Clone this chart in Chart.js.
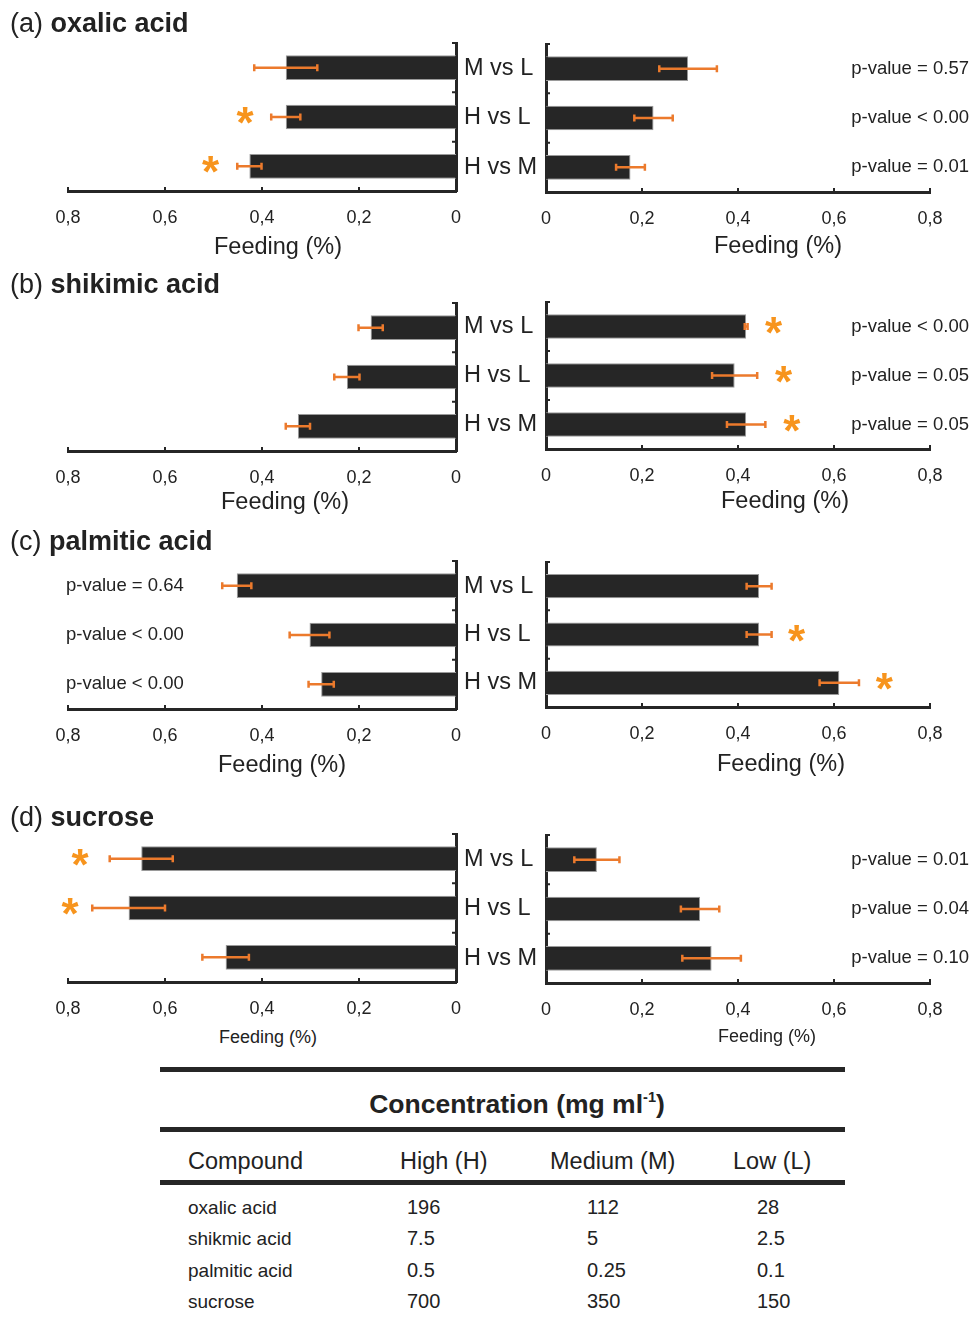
<!DOCTYPE html>
<html>
<head>
<meta charset="utf-8">
<script src="https://cdn.jsdelivr.net/npm/chart.js@4.4.0/dist/chart.umd.min.js"></script>
<style>
  body { margin: 0; background: #fff; }
  #page { position: relative; width: 973px; height: 1318px; overflow: hidden;
          font-family: "Liberation Sans", Arial, sans-serif; color: #222; }
  #page canvas { position: absolute; }
  .t { position: absolute; white-space: nowrap; line-height: 1; }
  .rule { position: absolute; left: 160px; width: 685px; height: 5px; background: #262626; }
  sup { font-size: 0.55em; vertical-align: 0.75em; line-height: 0; }
</style>
</head>
<body>
<div id="page"></div>
<script>
// comparisons shown on every panel, top to bottom
const comparisons = ['M vs L', 'H vs L', 'H vs M'];
const axisTicks = [0, 0.2, 0.4, 0.6, 0.8];

// (a) oxalic acid
const oxalicLeftMean = [0.351, 0.351, 0.426];
const oxalicLeftErr = [0.065, 0.030, 0.025];
const oxalicLeftStar = [null, 0.435, 0.506];
const oxalicRightMean = [0.296, 0.224, 0.176];
const oxalicRightErr = [0.060, 0.040, 0.030];
const oxalicPValues = ['p-value = 0.57', 'p-value < 0.00', 'p-value = 0.01'];

// (b) shikimic acid
const shikimicLeftMean = [0.176, 0.225, 0.326];
const shikimicLeftErr = [0.025, 0.026, 0.025];
const shikimicRightMean = [0.417, 0.393, 0.417];
const shikimicRightErr = [0.003, 0.047, 0.040];
const shikimicRightStar = [0.474, 0.495, 0.512];
const shikimicPValues = ['p-value < 0.00', 'p-value = 0.05', 'p-value = 0.05'];

// (c) palmitic acid
const palmiticLeftMean = [0.452, 0.302, 0.278];
const palmiticLeftErr = [0.030, 0.041, 0.026];
const palmiticRightMean = [0.444, 0.444, 0.611];
const palmiticRightErr = [0.026, 0.026, 0.041];
const palmiticRightStar = [null, 0.522, 0.705];
const palmiticPValues = ['p-value = 0.64', 'p-value < 0.00', 'p-value < 0.00'];

// (d) sucrose
const sucroseLeftMean = [0.649, 0.675, 0.475];
const sucroseLeftErr = [0.065, 0.075, 0.048];
const sucroseLeftStar = [0.775, 0.796, null];
const sucroseRightMean = [0.106, 0.321, 0.345];
const sucroseRightErr = [0.047, 0.040, 0.061];
const sucrosePValues = ['p-value = 0.01', 'p-value = 0.04', 'p-value = 0.10'];

// concentration table
const compounds = ['oxalic acid', 'shikmic acid', 'palmitic acid', 'sucrose'];
const concHigh = ['196', '7.5', '0.5', '700'];
const concMedium = ['112', '5', '0.25', '350'];
const concLow = ['28', '2.5', '0.1', '150'];

const BAR = '#262626', ERR = '#EC7A2C', STAR = '#F7941D', INK = '#222';
const FONT = '"Liberation Sans", Arial, sans-serif';
Chart.defaults.font.family = FONT;

const page = document.getElementById('page');

function text(html, x, baseline, size, align, bold) {
  const d = document.createElement('div');
  d.className = 't';
  d.innerHTML = html;
  d.style.fontSize = size + 'px';
  if (bold) d.style.fontWeight = 'bold';
  d.style.left = x + 'px';
  d.style.top = (baseline - 0.8465 * size) + 'px';
  if (align === 'center') d.style.transform = 'translateX(-50%)';
  if (align === 'right') d.style.transform = 'translateX(-100%)';
  page.appendChild(d);
  return d;
}

const tickText = v => v === 0 ? '0' : v.toFixed(1).replace('.', ',');

// error bars, asterisks, p-values and the small inward tick marks
const marks = {
  id: 'marks',
  afterDraw(chart, args, o) {
    const { ctx, chartArea: ca } = chart;
    const xs = chart.scales.x, ys = chart.scales.y;
    const mean = chart.data.datasets[0].data;
    ctx.save();

    ctx.strokeStyle = ERR;
    ctx.lineWidth = 2.5;
    mean.forEach((m, i) => {
      const y = ys.getPixelForValue(i);
      const a = xs.getPixelForValue(m - o.err[i]);
      const b = xs.getPixelForValue(m + o.err[i]);
      ctx.beginPath();
      ctx.moveTo(a, y); ctx.lineTo(b, y);
      ctx.moveTo(a, y - 3.5); ctx.lineTo(a, y + 3.5);
      ctx.moveTo(b, y - 3.5); ctx.lineTo(b, y + 3.5);
      ctx.stroke();
    });

    ctx.fillStyle = STAR;
    ctx.font = 'bold 44px ' + FONT;
    ctx.textAlign = 'center';
    ctx.textBaseline = 'middle';
    (o.star || []).forEach((s, i) => {
      if (s == null) return;
      ctx.fillText('*', xs.getPixelForValue(s), ys.getPixelForValue(i) + 9);
    });

    ctx.fillStyle = INK;
    ctx.font = '18.5px ' + FONT;
    ctx.textAlign = o.pAlign;
    (o.pvals || []).forEach((p, i) => {
      ctx.fillText(p, o.pX, ys.getPixelForValue(i));
    });

    ctx.strokeStyle = BAR;
    ctx.lineWidth = 2;
    ctx.beginPath();
    xs.ticks.forEach(t => {
      const px = xs.getPixelForValue(t.value);
      ctx.moveTo(px, ca.bottom); ctx.lineTo(px, ca.bottom - 4);
    });
    const ax = o.yRight ? ca.right : ca.left;
    const dir = o.yRight ? -1 : 1;
    const n = mean.length;
    for (let i = 0; i <= n; i++) {
      const y = ca.top + i * (ca.bottom - ca.top) / n;
      ctx.moveTo(ax, y); ctx.lineTo(ax + dir * 4, y);
    }
    ctx.stroke();
    ctx.restore();
  }
};

function makePanel(side, top, bottom, mean, err, star, pvals, pSide) {
  const isLeft = side === 'left';
  const cv = document.createElement('canvas');
  cv.width = isLeft ? 480 : 523;
  cv.height = bottom - top + 10 + 45;
  cv.style.left = (isLeft ? 0 : 450) + 'px';
  cv.style.top = (top - 10) + 'px';
  page.appendChild(cv);

  new Chart(cv, {
    type: 'bar',
    data: {
      labels: comparisons,
      datasets: [{
        data: mean,
        backgroundColor: BAR,
        borderColor: '#9a9a9a',
        borderWidth: 1,
        categoryPercentage: 1,
        barPercentage: 0.5
      }]
    },
    options: {
      indexAxis: 'y',
      responsive: false,
      animation: false,
      devicePixelRatio: 1,
      layout: { padding: isLeft ? { left: 68, top: 10, right: 0, bottom: 0 }
                                : { left: 14, top: 10, right: 43, bottom: 0 } },
      plugins: {
        legend: { display: false },
        tooltip: { enabled: false },
        marks: {
          err: err, star: star, pvals: pvals, yRight: isLeft,
          pAlign: pSide === 'left' ? 'left' : 'right',
          pX: pSide === 'left' ? 66 : 519
        }
      },
      scales: {
        x: {
          reverse: isLeft,
          min: 0, max: 0.8,
          z: 1,
          afterBuildTicks: s => { s.ticks = axisTicks.map(v => ({ value: v })); },
          afterFit: s => { s.height = 45; s.paddingLeft = 0; s.paddingRight = 0; },
          grid: { display: false, drawTicks: false },
          border: { display: true, width: 3, color: BAR },
          ticks: { padding: 16, color: INK, font: { size: 18 }, maxRotation: 0, autoSkip: false,
                   callback: v => tickText(v) }
        },
        y: {
          position: isLeft ? 'right' : 'left',
          z: 1,
          afterFit: s => { s.width = isLeft ? 24 : 82; s.paddingTop = 0; s.paddingBottom = 0; },
          grid: { display: false, drawTicks: false },
          border: { display: true, width: 3, color: BAR },
          ticks: { display: !isLeft, padding: 0, crossAlign: 'far', color: INK, font: { size: 23.5 } }
        }
      }
    },
    plugins: [marks]
  });
}

// row a
makePanel('left', 43, 191, oxalicLeftMean, oxalicLeftErr, oxalicLeftStar, null);
makePanel('right', 44, 192, oxalicRightMean, oxalicRightErr, null, oxalicPValues, 'right');
// row b
makePanel('left', 303, 451, shikimicLeftMean, shikimicLeftErr, null, null);
makePanel('right', 302, 449, shikimicRightMean, shikimicRightErr, shikimicRightStar, shikimicPValues, 'right');
// row c
makePanel('left', 561, 709, palmiticLeftMean, palmiticLeftErr, null, palmiticPValues, 'left');
makePanel('right', 562, 707, palmiticRightMean, palmiticRightErr, palmiticRightStar, null);
// row d
makePanel('left', 834, 982, sucroseLeftMean, sucroseLeftErr, sucroseLeftStar, null);
makePanel('right', 835, 983, sucroseRightMean, sucroseRightErr, null, sucrosePValues, 'right');

// panel titles
text('(a) <b>oxalic acid</b>', 10, 33, 27);
text('(b) <b>shikimic acid</b>', 10, 294, 27);
text('(c) <b>palmitic acid</b>', 10, 551, 27);
text('(d) <b>sucrose</b>', 10, 827, 27);

// axis titles
text('Feeding (%)', 278, 255, 23.5, 'center');
text('Feeding (%)', 778, 254, 23.5, 'center');
text('Feeding (%)', 285, 510, 23.5, 'center');
text('Feeding (%)', 785, 509, 23.5, 'center');
text('Feeding (%)', 282, 773, 23.5, 'center');
text('Feeding (%)', 781, 772, 23.5, 'center');
text('Feeding (%)', 268, 1043, 18, 'center');
text('Feeding (%)', 767, 1042, 18, 'center');

// concentration table
[1067, 1127, 1180].forEach(y => {
  const r = document.createElement('div');
  r.className = 'rule';
  r.style.top = y + 'px';
  page.appendChild(r);
});
text('Concentration (mg ml<sup>-1</sup>)', 517, 1113, 26.5, 'center', true);
const heads = [['Compound', 188], ['High (H)', 400], ['Medium (M)', 550], ['Low (L)', 733]];
heads.forEach(([h, x]) => text(h, x, 1170, 23.5));
const rowBase = [1214, 1245, 1277, 1308];
compounds.forEach((c, i) => {
  text(c, 188, rowBase[i], 19);
  text(concHigh[i], 407, rowBase[i], 20);
  text(concMedium[i], 587, rowBase[i], 20);
  text(concLow[i], 757, rowBase[i], 20);
});
</script>
</body>
</html>
